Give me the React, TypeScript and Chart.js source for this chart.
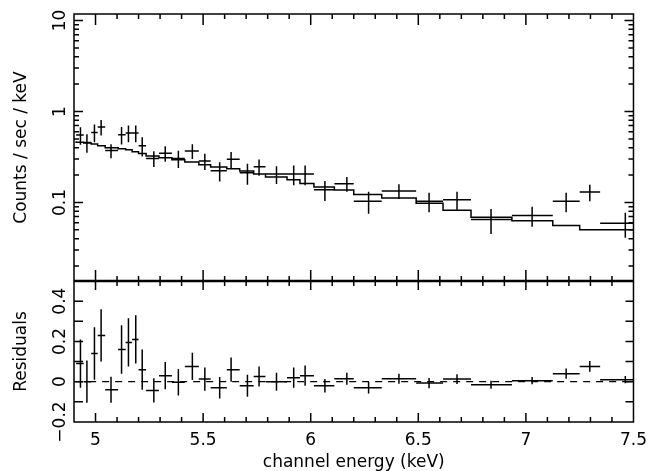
import React, { useEffect, useRef } from 'react';
import { Chart, registerables } from 'chart.js';

Chart.register(...registerables);

// ---- data ----
const binEdges = [4.91, 4.945, 4.98, 5.01, 5.045, 5.105, 5.14, 5.17, 5.2, 5.235, 5.295, 5.355, 5.415, 5.48, 5.535, 5.61, 5.67, 5.735, 5.79, 5.89, 5.95, 6.015, 6.11, 6.2, 6.33, 6.49, 6.615, 6.745, 6.935, 7.125, 7.25, 7.345, 7.5];
const energies = [4.93, 4.96, 4.995, 5.026, 5.072, 5.121, 5.153, 5.187, 5.217, 5.271, 5.324, 5.385, 5.45, 5.508, 5.577, 5.63, 5.706, 5.76, 5.841, 5.921, 5.974, 6.066, 6.168, 6.269, 6.41, 6.55, 6.68, 6.838, 7.029, 7.187, 7.297, 7.462];
const counts = [0.55, 0.456, 0.589, 0.676, 0.372, 0.555, 0.58, 0.58, 0.42, 0.305, 0.348, 0.305, 0.369, 0.286, 0.223, 0.298, 0.212, 0.247, 0.205, 0.205, 0.205, 0.138, 0.161, 0.103, 0.134, 0.103, 0.107, 0.065, 0.072, 0.103, 0.13, 0.059];
const errors = [0.12, 0.105, 0.13, 0.13, 0.065, 0.12, 0.12, 0.12, 0.1, 0.06, 0.068, 0.066, 0.068, 0.058, 0.053, 0.06, 0.055, 0.05, 0.045, 0.05, 0.05, 0.034, 0.03, 0.028, 0.025, 0.025, 0.024, 0.02, 0.018, 0.025, 0.027, 0.018];
const residuals = [0.09, 0.0, 0.14, 0.23, -0.04, 0.16, 0.195, 0.21, 0.06, -0.043, 0.03, -0.003, 0.076, 0.013, -0.03, 0.06, -0.02, 0.026, 0.0, 0.02, 0.03, -0.02, 0.015, -0.03, 0.015, -0.007, 0.013, -0.015, 0.005, 0.04, 0.076, 0.01];
const model = [0.47, 0.46, 0.45, 0.44, 0.42, 0.4, 0.39, 0.38, 0.36, 0.345, 0.325, 0.31, 0.295, 0.278, 0.26, 0.245, 0.235, 0.222, 0.205, 0.19, 0.178, 0.162, 0.148, 0.137, 0.122, 0.112, 0.098, 0.082, 0.069, 0.063, 0.056, 0.05];

const xTicks = [5, 5.5, 6, 6.5, 7, 7.5];
const countTicks = [0.1, 1, 10];
const residTicks = [-0.2, 0, 0.2, 0.4];
const residLabels = ['\u22120.2', '0', '0.2', '0.4'];

const FONT = 'DejaVu Sans';

const crossPlugin = {
  id: 'crosses',
  afterDatasetsDraw(chart: any) {
    const ctx = chart.ctx;
    const xs = chart.scales.x;
    chart.data.datasets.forEach((ds: any) => {
      if (!ds.crosses) return;
      const ys = chart.scales[ds.yAxisID];
      ctx.save();
      ctx.beginPath();
      ctx.rect(chart.chartArea.left, ys.top, chart.chartArea.right - chart.chartArea.left, ys.bottom - ys.top);
      ctx.clip();
      ctx.strokeStyle = '#000';
      ctx.lineWidth = 1.5;
      ctx.beginPath();
      ds.data.forEach((p: any) => {
        const px = xs.getPixelForValue(p.x);
        const py = ys.getPixelForValue(p.y);
        const yLo = ys.getPixelForValue(Math.max(p.yMin, ys.min));
        const yHi = ys.getPixelForValue(p.yMax);
        ctx.moveTo(xs.getPixelForValue(p.xMin), py);
        ctx.lineTo(xs.getPixelForValue(p.xMax), py);
        ctx.moveTo(px, yLo);
        ctx.lineTo(px, yHi);
      });
      ctx.stroke();
      ctx.restore();
    });
  },
};

const framePlugin = {
  id: 'frameTicks',
  afterDraw(chart: any) {
    const ctx = chart.ctx;
    const xs = chart.scales.x;
    const ys = chart.scales.y;
    const yr = chart.scales.y2;
    const L = chart.chartArea.left;
    const R = chart.chartArea.right;
    const T1 = ys.top, B1 = ys.bottom, T2 = yr.top, B2 = yr.bottom;
    ctx.save();
    ctx.strokeStyle = '#000';
    ctx.lineWidth = 1.5;
    const seg = (x1: number, y1: number, x2: number, y2: number) => {
      ctx.moveTo(x1, y1);
      ctx.lineTo(x2, y2);
    };
    ctx.beginPath();
    ctx.rect(L, T1, R - L, B1 - T1);
    ctx.rect(L, T2, R - L, B2 - T2);
    for (let k = 50; k <= 74; k++) {
      const px = xs.getPixelForValue(k / 10);
      const major = k % 5 === 0;
      seg(px, T1, px, T1 + (major ? 11 : 5));
      seg(px, B1, px, B1 - (major ? 11 : 5));
      seg(px, T2, px, T2 + (major ? 9 : 5));
      seg(px, B2, px, B2 - (major ? 9 : 5));
    }
    for (let d = -2; d <= 1; d++) {
      for (let m = 1; m <= 9; m++) {
        const v = m * Math.pow(10, d);
        if (v <= ys.min || v >= ys.max) continue;
        const py = ys.getPixelForValue(v);
        const len = m === 1 ? 9 : 5;
        seg(L, py, L + len, py);
        seg(R, py, R - len, py);
      }
    }
    for (let k = -1; k <= 4; k++) {
      const py = yr.getPixelForValue(k / 10);
      seg(L, py, L + 9, py);
      seg(R, py, R - 8, py);
    }
    ctx.stroke();
    ctx.lineWidth = 2.5;
    ctx.beginPath();
    seg(L, B1, R, B1);
    ctx.stroke();
    ctx.restore();
  },
};

export default function App() {
  const ref = useRef<HTMLCanvasElement>(null);
  useEffect(() => {
    if (!ref.current) return;
    const n = energies.length;
    const specPts = energies.map((e, i) => ({
      x: e, y: counts[i], xMin: binEdges[i], xMax: binEdges[i + 1],
      yMin: counts[i] - errors[i], yMax: counts[i] + errors[i],
    }));
    const resPts = energies.map((e, i) => ({
      x: e, y: residuals[i], xMin: binEdges[i], xMax: binEdges[i + 1],
      yMin: residuals[i] - errors[i], yMax: residuals[i] + errors[i],
    }));
    const modelPts = binEdges.map((e, i) => ({ x: e, y: model[Math.min(i, n - 1)] }));
    const zeroPts = [{ x: binEdges[0], y: 0 }, { x: binEdges[n], y: 0 }];

    Chart.defaults.font.family = FONT;
    Chart.defaults.font.size = 17;
    Chart.defaults.color = '#000';

    const chart = new Chart(ref.current, {
      type: 'scatter',
      data: {
        datasets: [
          { type: 'line', data: modelPts, yAxisID: 'y', stepped: 'after', borderColor: '#000', borderWidth: 1.5, pointRadius: 0, fill: false } as any,
          { data: specPts, yAxisID: 'y', pointRadius: 0, crosses: true } as any,
          { type: 'line', data: zeroPts, yAxisID: 'y2', borderColor: '#000', borderWidth: 1.2, borderDash: [7, 6], pointRadius: 0, fill: false } as any,
          { data: resPts, yAxisID: 'y2', pointRadius: 0, crosses: true } as any,
        ],
      },
      options: {
        responsive: false,
        animation: false,
        events: [],
        layout: { padding: { left: 0, top: 14, right: 16, bottom: 0 } },
        plugins: { legend: { display: false }, tooltip: { enabled: false } },
        scales: {
          x: {
            type: 'linear', min: 4.9, max: 7.5,
            grid: { display: false, drawTicks: false }, border: { display: false },
            afterBuildTicks: (s: any) => { s.ticks = xTicks.map((v) => ({ value: v })); },
            afterFit: (s: any) => { s.height = 49; },
            ticks: { autoSkip: false, padding: 8, maxRotation: 0, callback: (v: any) => String(v) },
            title: { display: true, text: 'channel energy (keV)', font: { size: 17, lineHeight: 1 }, padding: { top: 0, bottom: 0 } },
          },
          y2: {
            type: 'linear', min: -0.2, max: 0.5, position: 'left', stack: 'panels', stackWeight: 141,
            grid: { display: false, drawTicks: false }, border: { display: false },
            afterBuildTicks: (s: any) => { s.ticks = residTicks.map((v) => ({ value: v })); },
            afterFit: (s: any) => { s.width = 74; },
            ticks: { autoSkip: false, minRotation: 90, maxRotation: 90, crossAlign: 'center', padding: -7,
              callback: (v: any) => residLabels[residTicks.indexOf(Number(v))] ?? '' },
            title: { display: true, text: 'Residuals', font: { size: 17, lineHeight: 1 }, padding: { top: 13.5, bottom: 0 } },
          },
          y: {
            type: 'logarithmic', min: 0.0137, max: 11.8, position: 'left', stack: 'panels', stackWeight: 267,
            grid: { display: false, drawTicks: false }, border: { display: false },
            afterBuildTicks: (s: any) => { s.ticks = countTicks.map((v) => ({ value: v })); },
            afterFit: (s: any) => { s.width = 74; },
            ticks: { autoSkip: false, minRotation: 90, maxRotation: 90, crossAlign: 'center', padding: 0,
              callback: (v: any) => String(v) },
            title: { display: true, text: 'Counts / sec / keV', font: { size: 17, lineHeight: 1 }, padding: { top: 13.5, bottom: 0 } },
          },
        },
      } as any,
      plugins: [crossPlugin, framePlugin],
    });
    return () => chart.destroy();
  }, []);
  return (
    <div style={{ position: 'absolute', left: 0, top: 0, width: 655, height: 471, background: '#fff' }}>
      <canvas ref={ref} width={655} height={471} />
    </div>
  );
}
